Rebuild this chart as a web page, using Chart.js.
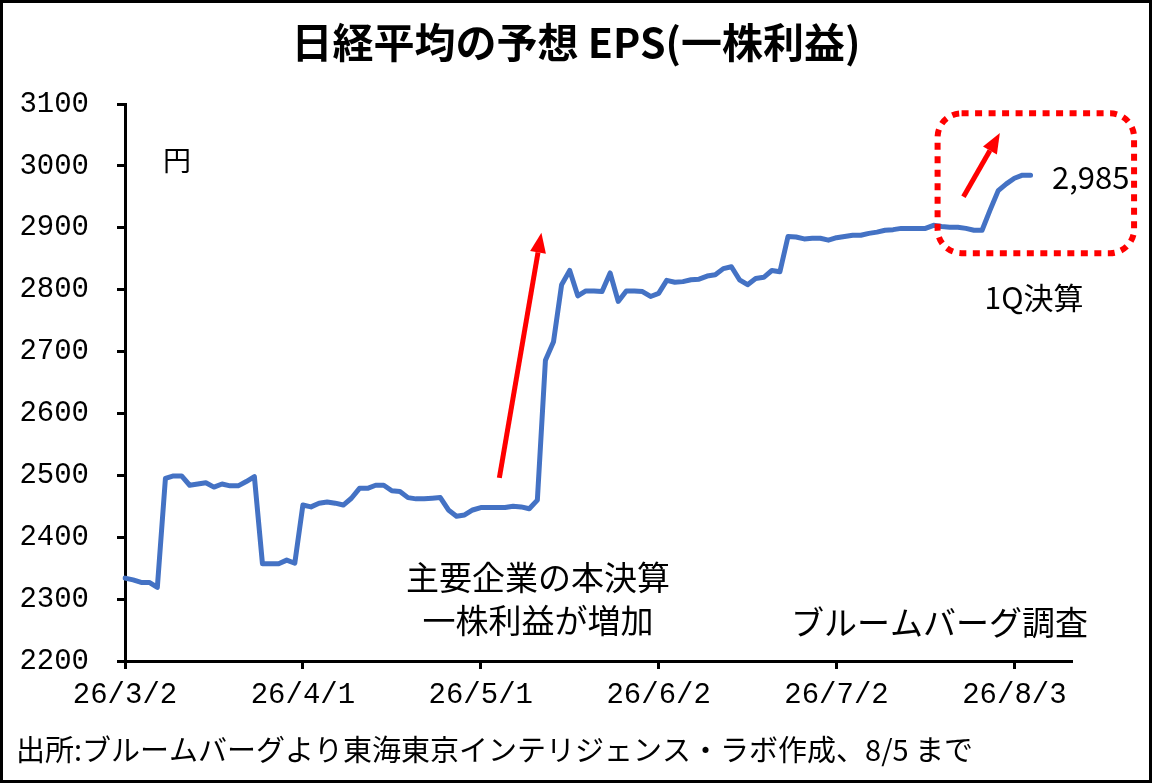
<!DOCTYPE html>
<html>
<head>
<meta charset="utf-8">
<script src="https://cdn.jsdelivr.net/npm/chart.js@4"></script>
<style>
  html, body { margin: 0; padding: 0; background: #fff; }
  #wrap { width: 1152px; height: 783px; }
</style>
</head>
<body>
<div id="wrap"><canvas id="grafico-eps" width="1152" height="783"></canvas></div>
<script>
// 日経平均の予想EPS（営業日ごと、26/3/2〜26/8/5）
const tickLabels = ['26/3/2', '26/4/1', '26/5/1', '26/6/2', '26/7/2', '26/8/3'];
const tickEvery = 22;
const categoryCount = 118; // 軸の右端まで（最後の数本はデータなし）
const categories = Array.from({ length: categoryCount }, (_, i) => i);

const epsValues = [
    2334, 2331, 2327, 2327, 2319, 2495, 2499, 2499, 2484, 2486,
    2488, 2481, 2486, 2483, 2483, 2490, 2498, 2357, 2357, 2357,
    2363, 2358, 2452, 2449, 2455, 2457, 2455, 2452, 2463, 2479,
    2479, 2484, 2484, 2475, 2474, 2464, 2462, 2462, 2463, 2464,
    2444, 2434, 2436, 2444, 2448, 2448, 2448, 2448, 2450, 2449,
    2446, 2460, 2686, 2716, 2808, 2831, 2790, 2798, 2798, 2797,
    2827, 2781, 2798, 2798, 2797, 2789, 2794, 2815, 2812, 2813,
    2816, 2817, 2822, 2824, 2834, 2837, 2816, 2808, 2818, 2820,
    2831, 2829, 2886, 2885, 2882, 2883, 2883, 2880, 2884, 2886,
    2888, 2888, 2891, 2893, 2896, 2897, 2899, 2899, 2899, 2899,
    2904, 2902, 2901, 2901, 2899, 2896, 2896, 2929, 2960, 2971,
    2980, 2985, 2985
];
const lastLabel = '2,985';

const yMin = 2200, yMax = 3100, yStep = 100;

const JP = '"Noto Sans CJK JP", "Noto Sans", sans-serif';
const NUM = '"Liberation Mono", "DejaVu Sans Mono", monospace';

function arrow(ctx, x1, y1, x2, y2) {
    const ang = Math.atan2(y2 - y1, x2 - x1);
    const head = 20, half = 8;
    const bx = x2 - head * Math.cos(ang), by = y2 - head * Math.sin(ang);
    ctx.save();
    ctx.strokeStyle = '#ff0000';
    ctx.fillStyle = '#ff0000';
    ctx.lineWidth = 5;
    ctx.beginPath();
    ctx.moveTo(x1, y1);
    ctx.lineTo(bx, by);
    ctx.stroke();
    ctx.beginPath();
    ctx.moveTo(x2, y2);
    ctx.lineTo(bx + half * Math.sin(ang), by - half * Math.cos(ang));
    ctx.lineTo(bx - half * Math.sin(ang), by + half * Math.cos(ang));
    ctx.closePath();
    ctx.fill();
    ctx.restore();
}

const decorations = {
    id: 'decorations',
    afterDraw(chart) {
        const ctx = chart.ctx;
        const xs = chart.scales.x, ys = chart.scales.y;
        const px = v => xs.getPixelForValue(v);
        const py = v => ys.getPixelForValue(v);

        ctx.save();
        // 外枠
        ctx.strokeStyle = '#000';
        ctx.lineWidth = 3;
        ctx.strokeRect(1.5, 1.5, 1149, 780);

        ctx.fillStyle = '#000';
        ctx.textBaseline = 'middle';

        // タイトル
        ctx.textAlign = 'center';
        ctx.font = 'bold 41px ' + JP;
        ctx.fillText('日経平均の予想 EPS(一株利益)', 576, 42);

        ctx.font = '28px ' + JP;
        ctx.fillText('円', 177, 160);

        ctx.font = '33px ' + JP;
        ctx.fillText('主要企業の本決算', 538, 577);
        ctx.fillText('一株利益が増加', 538, 620);

        ctx.textAlign = 'right';
        ctx.fillText('ブルームバーグ調査', 1088, 622);

        ctx.textAlign = 'center';
        ctx.font = '30px ' + JP;
        ctx.fillText('1Q決算', 1034, 298);

        ctx.textAlign = 'left';
        ctx.font = '31px ' + JP;
        ctx.fillText(lastLabel, 1052, 177);

        ctx.font = '29px ' + JP;
        ctx.fillText('出所:ブルームバーグより東海東京インテリジェンス・ラボ作成、8/5 まで', 16, 750);

        // 赤い矢印
        arrow(ctx, px(46.3), py(2496), px(51.5), py(2892));
        arrow(ctx, px(103.7), py(2950), px(108.2), py(3053));

        // 点線の角丸枠
        ctx.strokeStyle = '#ff0000';
        ctx.lineWidth = 6;
        ctx.setLineDash([7, 6.5]);
        ctx.beginPath();
        const rx = px(100.5), ry = py(3085);
        ctx.roundRect(rx, ry, px(124.8) - rx, py(2859) - ry, 24);
        ctx.stroke();
        ctx.restore();
    }
};

const ctx = document.getElementById('grafico-eps').getContext('2d');
const graficoEps = new Chart(ctx, {
    type: 'line',
    data: {
        labels: categories,
        datasets: [{
            label: '予想EPS',
            data: epsValues,
            borderColor: '#4472c4',
            borderWidth: 5,
            borderJoinStyle: 'round',
            borderCapStyle: 'round',
            pointRadius: 0,
            fill: false,
            tension: 0
        }]
    },
    options: {
        responsive: false,
        animation: false,
        devicePixelRatio: 1,
        layout: { padding: { left: 10, right: 81, top: 104, bottom: 72 } },
        plugins: {
            legend: { display: false },
            title: { display: false },
            tooltip: { enabled: false }
        },
        scales: {
            x: {
                type: 'category',
                offset: false,
                afterFit: s => { s.height = 50; },
                border: { color: '#000', width: 3 },
                grid: {
                    drawOnChartArea: false,
                    tickLength: 8,
                    lineWidth: 3,
                    color: c => (c.index % tickEvery === 0 && c.index / tickEvery < tickLabels.length) ? '#000' : 'rgba(0,0,0,0)'
                },
                ticks: {
                    autoSkip: false,
                    maxRotation: 0,
                    padding: 9,
                    color: '#000',
                    font: { family: NUM, size: 29 },
                    callback: (v, i) => (i % tickEvery === 0 && tickLabels[i / tickEvery]) ? tickLabels[i / tickEvery] : ''
                }
            },
            y: {
                min: yMin,
                max: yMax,
                afterFit: s => { s.width = 115; },
                border: { color: '#000', width: 3 },
                grid: {
                    drawOnChartArea: false,
                    tickLength: 8,
                    lineWidth: 3,
                    color: '#000'
                },
                ticks: {
                    stepSize: yStep,
                    padding: 28,
                    color: '#000',
                    font: { family: NUM, size: 29 },
                    callback: v => String(v)
                }
            }
        }
    },
    plugins: [decorations]
});
</script>
</body>
</html>
